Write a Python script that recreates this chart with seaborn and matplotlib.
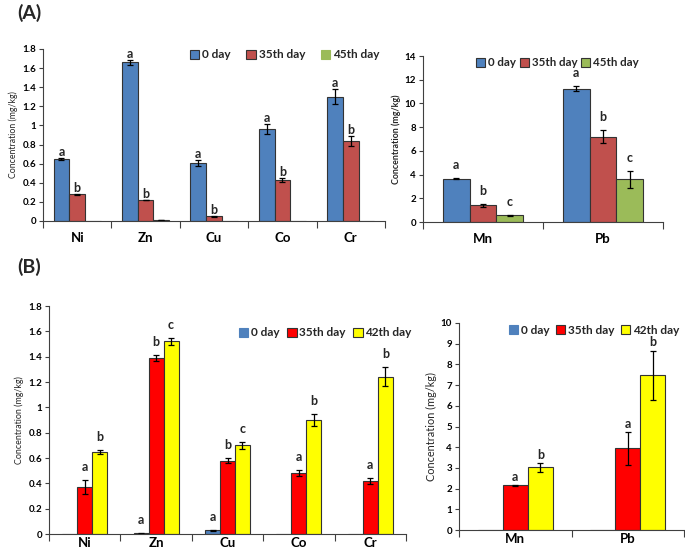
import matplotlib
matplotlib.use("Agg")
import matplotlib.pyplot as plt
from matplotlib.patches import Patch
import seaborn as sns
import pandas as pd
import numpy as np

sns.set_theme(style="white")
plt.rcParams['font.family'] = ['Lato', 'DejaVu Sans']

# ---------------- Data ----------------
# Panel (A) left
a1_metals = ["Ni", "Zn", "Cu", "Co", "Cr"]
a1_series = ["0 day", "35th day", "45th day"]
a1_day0 = [0.65, 1.66, 0.61, 0.96, 1.30]
a1_day0_err = [0.012, 0.03, 0.03, 0.05, 0.08]
a1_day35 = [0.28, 0.22, 0.05, 0.43, 0.84]
a1_day35_err = [0.006, 0.005, 0.003, 0.02, 0.05]
a1_day45 = [0.0, 0.01, 0.0, 0.0, 0.0]
a1_day45_err = [0.0, 0.003, 0.0, 0.0, 0.0]
a1_let0 = ["a", "a", "a", "a", "a"]
a1_let35 = ["b", "b", "b", "b", "b"]
a1_let45 = ["", "", "", "", ""]

# Panel (A) right
a2_metals = ["Mn", "Pb"]
a2_series = ["0 day", "35th day", "45th day"]
a2_day0 = [3.65, 11.25]
a2_day0_err = [0.06, 0.2]
a2_day35 = [1.40, 7.20]
a2_day35_err = [0.1, 0.55]
a2_day45 = [0.56, 3.62]
a2_day45_err = [0.05, 0.72]
a2_let0 = ["a", "a"]
a2_let35 = ["b", "b"]
a2_let45 = ["c", "c"]

# Panel (B) left
b1_metals = ["Ni", "Zn", "Cu", "Co", "Cr"]
b1_series = ["0 day", "35th day", "42th day"]
b1_day0 = [0.0, 0.005, 0.03, 0.0, 0.0]
b1_day0_err = [0.0, 0.002, 0.004, 0.0, 0.0]
b1_day35 = [0.37, 1.39, 0.58, 0.48, 0.42]
b1_day35_err = [0.055, 0.025, 0.02, 0.025, 0.025]
b1_day42 = [0.65, 1.52, 0.70, 0.90, 1.24]
b1_day42_err = [0.015, 0.03, 0.03, 0.05, 0.075]
b1_let0 = ["", "a", "a", "", ""]
b1_let35 = ["a", "b", "b", "a", "a"]
b1_let42 = ["b", "c", "c", "b", "b"]

# Panel (B) right
b2_metals = ["Mn", "Pb"]
b2_series = ["0 day", "35th day", "42th day"]
b2_day0 = [0.0, 0.0]
b2_day0_err = [0.0, 0.0]
b2_day35 = [2.15, 3.94]
b2_day35_err = [0.04, 0.78]
b2_day42 = [3.02, 7.47]
b2_day42_err = [0.2, 1.2]
b2_let0 = ["", ""]
b2_let35 = ["a", "a"]
b2_let42 = ["b", "b"]

colors_a = ["#4F81BD", "#C0504D", "#9BBB59"]
colors_b = ["#4F81BD", "#FF0000", "#FFFF00"]

W, H = 685, 558
fig = plt.figure(figsize=(W / 100, H / 100), dpi=100)


def rect(x0, y0, x1, y1):
    return [x0 / W, 1 - y1 / H, (x1 - x0) / W, (y1 - y0) / H]


def panel(r, metals, series, vals, errs, lets, colors, yticks, ylabel,
          ylab_size, ylab_weight, width, let_off, leg_xy, colsp, xpad,
          leg_size=8.5, legend_edges=(True, True, True)):
    ax = fig.add_axes(rect(*r))
    rows = []
    for s, v in zip(series, vals):
        for m, val in zip(metals, v):
            rows.append({"metal": m, "series": s, "value": val})
    df = pd.DataFrame(rows)
    sns.barplot(data=df, x="metal", y="value", hue="series", order=metals,
                hue_order=series, palette=colors, width=width,
                edgecolor="#333333", linewidth=0.8, errorbar=None,
                saturation=1, ax=ax, legend=False)
    for cont, e, lt in zip(ax.containers, errs, lets):
        for bar, ee, ll in zip(cont, e, lt):
            xc = bar.get_x() + bar.get_width() / 2
            h = bar.get_height()
            if ee > 0:
                ax.errorbar(xc, h, yerr=ee, fmt="none", ecolor="black",
                            elinewidth=0.9, capsize=2.5, capthick=0.9)
            if ll:
                ax.annotate(ll, (xc, h + ee), xytext=(0, let_off),
                            textcoords="offset points", ha="center",
                            va="bottom", fontsize=9, fontweight="bold")
    n = len(metals)
    ax.set_xlim(-0.5, n - 0.5)
    ax.set_ylim(yticks[0], yticks[-1])
    ax.set_yticks(yticks)
    ax.set_yticklabels(["%g" % t for t in yticks], fontsize=7,
                       fontweight="bold")
    ax.set_xticks(np.arange(-0.5, n, 1.0))
    ax.set_xticklabels([""] * (n + 1))
    ax.set_xticks(np.arange(n), minor=True)
    ax.set_xticklabels(metals, minor=True, fontsize=9.5, fontweight="bold")
    ax.tick_params(axis="x", which="major", length=5, width=0.8,
                   direction="out", colors="#404040", bottom=True)
    ax.tick_params(axis="x", which="minor", length=0, pad=xpad,
                   labelcolor="black", bottom=True)
    ax.tick_params(axis="y", length=3, width=0.8, direction="out",
                   colors="#404040", labelcolor="black", left=True, pad=2)
    for sp in ["top", "right"]:
        ax.spines[sp].set_visible(False)
    for sp in ["left", "bottom"]:
        ax.spines[sp].set_color("#404040")
        ax.spines[sp].set_linewidth(0.8)
    ax.set_xlabel("")
    ax.set_ylabel(ylabel, fontsize=ylab_size, fontweight=ylab_weight,
                  labelpad=3)
    handles = [Patch(facecolor=c, edgecolor="#333333" if ed else c,
                     linewidth=0.8)
               for c, ed in zip(colors, legend_edges)]
    lx, ly = leg_xy
    fig.legend(handles, series, loc="center left",
               bbox_to_anchor=(lx / W, 1 - ly / H), ncol=3, frameon=False,
               handlelength=0.8, handleheight=0.8, handletextpad=0.25,
               columnspacing=colsp, borderaxespad=0, borderpad=0,
               prop={"weight": "bold", "size": leg_size})
    return ax


# (A) left
panel((43, 49, 385, 221), a1_metals, a1_series,
      [a1_day0, a1_day35, a1_day45], [a1_day0_err, a1_day35_err, a1_day45_err],
      [a1_let0, a1_let35, a1_let45], colors_a,
      [0, 0.2, 0.4, 0.6, 0.8, 1.0, 1.2, 1.4, 1.6, 1.8],
      "Concentration (mg/kg)", 6.3, "normal", 0.69, 0.0, (190, 55), 1.3, 8,
      legend_edges=(True, True, False))

# (A) right
panel((423, 56, 663, 222), a2_metals, a2_series,
      [a2_day0, a2_day35, a2_day45], [a2_day0_err, a2_day35_err, a2_day45_err],
      [a2_let0, a2_let35, a2_let45], colors_a,
      [0, 2, 4, 6, 8, 10, 12, 14],
      "Concentration (mg/kg)", 6.4, "bold", 0.67, 5, (476, 63), 0.3, 8,
      leg_size=8.3)

# (B) left
panel((49, 306, 406, 534), b1_metals, b1_series,
      [b1_day0, b1_day35, b1_day42], [b1_day0_err, b1_day35_err, b1_day42_err],
      [b1_let0, b1_let35, b1_let42], colors_b,
      [0, 0.2, 0.4, 0.6, 0.8, 1.0, 1.2, 1.4, 1.6, 1.8],
      "Concentration (mg/kg)", 6.4, "normal", 0.63, 5, (239, 333), 0.6, 2,
      legend_edges=(False, True, True))

# (B) right
panel((459, 323, 684, 530), b2_metals, b2_series,
      [b2_day0, b2_day35, b2_day42], [b2_day0_err, b2_day35_err, b2_day42_err],
      [b2_let0, b2_let35, b2_let42], colors_b,
      [0, 1, 2, 3, 4, 5, 6, 7, 8, 9, 10],
      "Concentration (mg/kg)", 7.8, "normal", 0.67, 1.5, (509, 330), 0.5, 2,
      legend_edges=(False, True, True))

fig.text(17 / W, 1 - 13 / H, "(A)", fontsize=14, fontweight="bold",
         va="center", ha="left")
fig.text(17 / W, 1 - 267 / H, "(B)", fontsize=14, fontweight="bold",
         va="center", ha="left")

fig.savefig("out.png", dpi=100, facecolor="white")
